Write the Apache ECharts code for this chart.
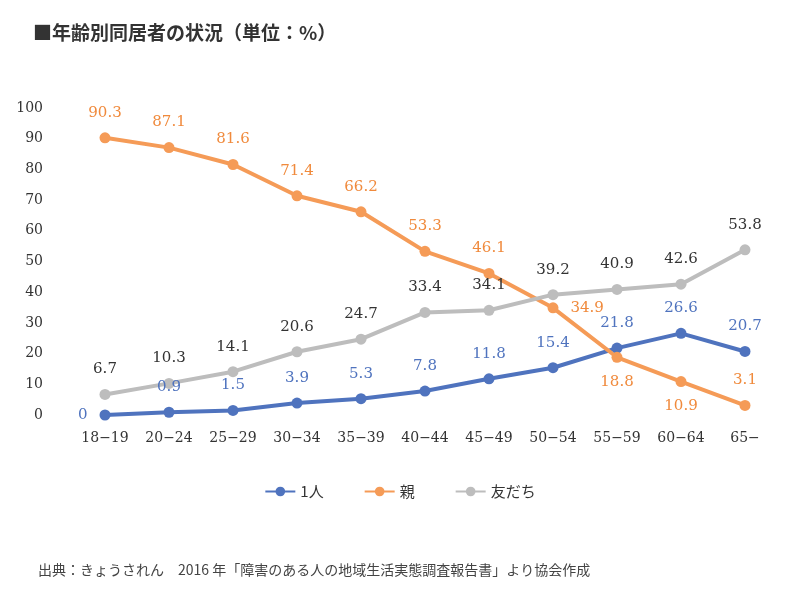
<!DOCTYPE html>
<html><head><meta charset="utf-8">
<script src="https://cdn.jsdelivr.net/npm/echarts@6/dist/echarts.min.js"></script>
<style>body{margin:0;background:#fff}</style></head>
<body><div id="c" style="width:800px;height:600px"></div>
<script>
const ages = ['18−19','20−24','25−29','30−34','35−39','40−44','45−49','50−54','55−59','60−64','65−'];
const alone = [0, 0.9, 1.5, 3.9, 5.3, 7.8, 11.8, 15.4, 21.8, 26.6, 20.7];
const parents = [90.3, 87.1, 81.6, 71.4, 66.2, 53.3, 46.1, 34.9, 18.8, 10.9, 3.1];
const friends = [6.7, 10.3, 14.1, 20.6, 24.7, 33.4, 34.1, 39.2, 40.9, 42.6, 53.8];
const parentLabelPos = ['top','top','top','top','top','top','top','right','bottom','bottom','top'];
const aloneLabelPos = ['left','top','top','top','top','top','top','top','top','top','top'];

const serif = '"DejaVu Serif", "Liberation Serif", serif';
const chart = echarts.init(document.getElementById('c'));

function line(name, values, color, labelColor, pos) {
  return {
    name, type: 'line', symbol: 'circle', symbolSize: 11,
    data: values.map((v, i) => pos ? { value: v, label: { position: pos[i] } } : v),
    lineStyle: { width: 4, color }, itemStyle: { color },
    label: { show: true, position: 'top', distance: 12, fontFamily: serif, fontSize: 15, color: labelColor }
  };
}

chart.setOption({
  animation: false,
  title: {
    text: '■年齢別同居者の状況（単位：%）', left: 28, top: 18,
    textStyle: { fontSize: 19, fontWeight: 'bold', color: '#333', fontFamily: '"Noto Sans CJK JP"' }
  },
  legend: {
    bottom: 96, itemWidth: 30, itemHeight: 12, itemGap: 40,
    textStyle: { fontSize: 15, color: '#333', fontFamily: '"Noto Sans CJK JP"' },
    data: ['1人', '親', '友だち']
  },
  graphic: [{
    type: 'text', left: 38, top: 563,
    style: { text: '出典：きょうされん　2016 年「障害のある人の地域生活実態調査報告書」より協会作成',
      fontSize: 14, fill: '#444', fontFamily: '"Noto Sans CJK JP"' }
  }],
  grid: { left: 73, right: 23, top: 108, bottom: 185 },
  xAxis: {
    type: 'category', data: ages, boundaryGap: true,
    axisLine: { show: false }, axisTick: { show: false },
    axisLabel: { fontFamily: serif, fontSize: 14, color: '#333', margin: 16 }
  },
  yAxis: {
    type: 'value', min: 0, max: 100, interval: 10,
    splitLine: { show: false }, axisLine: { show: false }, axisTick: { show: false },
    axisLabel: { fontFamily: serif, fontSize: 14, color: '#333', margin: 30 }
  },
  series: [
    line('1人', alone, '#4f73be', '#4f73be', aloneLabelPos),
    line('親', parents, '#f59b57', '#f08a3c', parentLabelPos),
    line('友だち', friends, '#bdbdbd', '#333')
  ]
});
</script></body></html>
